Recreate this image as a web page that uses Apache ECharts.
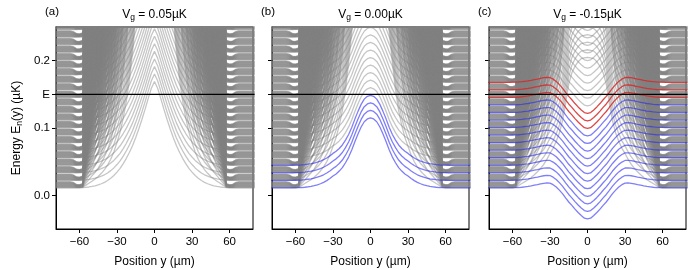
<!DOCTYPE html>
<html><head><meta charset="utf-8">
<script src="https://cdn.jsdelivr.net/npm/echarts@6/dist/echarts.min.js"></script>
<style>html,body{margin:0;padding:0;background:#fff}#c{width:700px;height:270px}</style>
</head><body><div id="c"></div>
<script>
// ---- data ----
// sample positions (µm) on one side of y = 0; the curves are symmetric
const positions = [0,2.5,5,7.5,10,12.5,15,17.5,20,22.5,25,27.5,30,32.5,35,37.5,40,42.5,45,47.5,50,52.5,55,57.5,60,62.5,65,67.5,70,72.5,75,77.5,80];
// lowest-mode profile above its edge value (µK), panel (a) Vg = 0.05
const bumpA = [0.158,0.148,0.133,0.117,0.102,0.088,0.075,0.063,0.053,0.044,0.036,0.029,0.0235,0.0185,0.0145,0.011,0.0083,0.0062,0.0045,0.0032,0.0022,0.0014,0.0008,0.0004,0.0002,0.0001,0,0,0,0,0,0,0];
// panel (b) Vg = 0.00
const bumpB = [0.1040,0.1024,0.0983,0.0905,0.0801,0.0686,0.0562,0.0458,0.0374,0.0302,0.0250,0.0208,0.0177,0.0140,0.0109,0.0083,0.0062,0.0047,0.0034,0.0024,0.0017,0.0010,0.0006,0.0003,0.0002,0.0001,0,0,0,0,0,0,0];
// panel (c) Vg = -0.15
const bumpC = [-0.0460,-0.0449,-0.0410,-0.0365,-0.0315,-0.0259,-0.0209,-0.0148,-0.0085,-0.0033,0.0014,0.0048,0.0072,0.0074,0.0069,0.0060,0.0049,0.0040,0.0030,0.0022,0.0016,0.0010,0.0006,0.0003,0.0002,0.0001,0,0,0,0,0,0,0];
// extra energy per transverse mode index (µK) at each position
const modeStep = [0.240,0.238,0.233,0.224,0.212,0.197,0.175,0.140,0.108,0.085,0.068,0.054,0.044,0.035,0.028,0.023,0.019,0.0155,0.0125,0.010,0.0078,0.0055,0.003,0.0004,0.0003,0.00035,0.00055,0.00062,0.00062,0.00062,0.00062,0.00062,0.00062];
// edge energies of the levels (µK)
const edgeLevels = [0.0110,0.0222,0.0334,0.0446,0.0558,0.0670,0.0782,0.0894,0.1006,0.1118,0.1230,0.1342,0.1454,0.1566,0.1678,0.1790,0.1902,0.2014,0.2126,0.2238,0.2350,0.2462,0.2574,0.2686,0.2798,0.2910];
const modeCount = 16;         // transverse modes drawn per level
const fermiEnergy = 0.15;     // "E"
const xTicks = [-60,-30,0,30,60];
const yTicks = [0,0.1,0.15,0.2];
const yTickLabels = ['0.0','0.1','E','0.2'];
const gateValues = ['0.05','0.00','-0.15'];
const panelLabels = ['(a)','(b)','(c)'];
const blueLevels = [[],[0,1,2,3],[0,1,2,3,4,5,6,7,8,9,10,11]];
const redLevels = [[],[],[12,13,14]];

// ---- layout / style ----
const FONT = '"Liberation Sans", Arial, Helvetica, sans-serif';
const lefts = [56,272,489];
const GW = 197, GT = 27, GH = 202;
const bumps = [bumpA,bumpB,bumpC];

function curve(level,bump,m){
  const pts=[];
  for(let i=positions.length-1;i>0;i--) pts.push([-positions[i], level+bump[i]+m*modeStep[i]]);
  for(let i=0;i<positions.length;i++) pts.push([positions[i], level+bump[i]+m*modeStep[i]]);
  return pts;
}
const grids=[],xAxes=[],yAxes=[],series=[],graphics=[];
lefts.forEach((L,p)=>{
  grids.push({left:L,top:GT,width:GW,height:GH,show:true,borderColor:'#000',borderWidth:1,backgroundColor:'transparent'});
  xAxes.push({gridIndex:p,type:'value',min:-78.75,max:78.75,
    axisLine:{show:true,onZero:false,lineStyle:{color:'#000',width:1}},
    axisTick:{show:true,inside:false,length:4,customValues:xTicks,lineStyle:{color:'#000'}},
    axisLabel:{show:true,customValues:xTicks,margin:7,fontSize:11.5,color:'#000',fontFamily:FONT,
      formatter:v=>v<0?'\u2212'+Math.abs(v):String(v)},
    splitLine:{show:false}});
  yAxes.push({gridIndex:p,type:'value',min:-0.05,max:0.25,
    axisLine:{show:true,onZero:false,lineStyle:{color:'#000',width:1}},
    axisTick:{show:true,inside:false,length:4,customValues:yTicks,lineStyle:{color:'#000'}},
    axisLabel:{show:p===0,customValues:yTicks,margin:6,fontSize:11.5,color:'#000',fontFamily:FONT,
      formatter:v=>{let k=0,d=1e9;yTicks.forEach((t,i)=>{if(Math.abs(t-v)<d){d=Math.abs(t-v);k=i;}});return yTickLabels[k];}},
    splitLine:{show:false}});
  const bump=bumps[p];
  for(let m=modeCount-1;m>=0;m--){
    edgeLevels.forEach((lv,n)=>{
      if(m===0 && (blueLevels[p].includes(n)||redLevels[p].includes(n))) return;
      if(m>0 && lv>0.25) return;
      series.push({type:'line',xAxisIndex:p,yAxisIndex:p,data:curve(lv,bump,m),showSymbol:false,symbol:'none',silent:true,
        lineStyle:{color:'rgba(128,128,128,0.45)',width:1.3},z:2});
    });
  }
  blueLevels[p].forEach(n=>series.push({type:'line',xAxisIndex:p,yAxisIndex:p,data:curve(edgeLevels[n],bump,0),showSymbol:false,symbol:'none',silent:true,
    lineStyle:{color:'rgba(40,40,245,0.6)',width:1.3},z:3}));
  redLevels[p].forEach(n=>series.push({type:'line',xAxisIndex:p,yAxisIndex:p,data:curve(edgeLevels[n],bump,0),showSymbol:false,symbol:'none',silent:true,
    lineStyle:{color:'rgba(215,40,40,0.85)',width:1.3},z:3}));
  series.push({type:'line',xAxisIndex:p,yAxisIndex:p,data:[[-80,fermiEnergy],[80,fermiEnergy]],showSymbol:false,symbol:'none',silent:true,
    lineStyle:{color:'#000',width:1.3},z:4});
  graphics.push({type:'text',x:L-11,y:6,style:{text:panelLabels[p],font:'11.5px '+FONT,fill:'#000',textVerticalAlign:'top'}});
  graphics.push({type:'text',x:L+GW/2,y:15,style:{text:'V{g|g} = '+gateValues[p]+'µK',font:'12px '+FONT,fill:'#000',textAlign:'center',textVerticalAlign:'middle',
    rich:{g:{fontSize:8.5,fontFamily:FONT,padding:[6,0,0,0]}}}});
  graphics.push({type:'text',x:L+GW/2,y:261.5,style:{text:'Position y (µm)',font:'12px '+FONT,fill:'#000',textAlign:'center',textVerticalAlign:'middle'}});
});
graphics.push({type:'text',x:17,y:128,rotation:Math.PI/2,style:{text:'Energy E{n|n}(y) (µK)',font:'12px '+FONT,fill:'#000',textAlign:'center',textVerticalAlign:'middle',
  rich:{n:{fontSize:8.5,fontFamily:FONT,padding:[6,0,0,0]}}}});

const chart=echarts.init(document.getElementById('c'),null,{renderer:'canvas',width:700,height:270});
chart.setOption({animation:false,grid:grids,xAxis:xAxes,yAxis:yAxes,series:series,graphic:graphics});
</script></body></html>
